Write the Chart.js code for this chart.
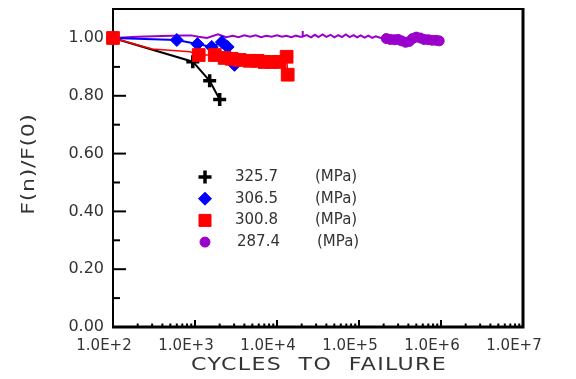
<!DOCTYPE html>
<html>
<head>
<meta charset="utf-8">
<script src="https://cdn.jsdelivr.net/npm/chart.js@4.4.0/dist/chart.umd.min.js"></script>
<style>
  html, body { margin: 0; padding: 0; background: #fff; }
  canvas { display: block; }
</style>
</head>
<body>
<canvas id="fatigueChart" width="576" height="379"></canvas>
<script>
const stressLabels = ['325.7', '306.5', '300.8', '287.4'];
const unitLabel = '(MPa)';
const xTitle = 'CYCLES  TO  FAILURE';
const yTitle = 'F(n)/F(0)';
const xTickValues = [1e2, 1e3, 1e4, 1e5, 1e6, 1e7];
const xTickLabels = ['1.0E+2', '1.0E+3', '1.0E+4', '1.0E+5', '1.0E+6', '1.0E+7'];
const yTickValues = [0, 0.2, 0.4, 0.6, 0.8, 1.0];
const yTickLabels = ['0.00', '0.20', '0.40', '0.60', '0.80', '1.00'];

// 325.7 MPa
const blackCycles = [100, 940, 1510, 2000];
const blackRatio = [1.0, 0.918, 0.852, 0.787];

// 306.5 MPa
const blueCycles = [100, 600, 1070, 1600, 2130, 2500, 3030];
const blueRatio = [1.0, 0.993, 0.979, 0.969, 0.986, 0.969, 0.907];

// 300.8 MPa
const redCycles = [100, 300, 870, 1110, 1740, 2300, 2800, 3500, 4660, 5800, 7050, 8600, 10700, 13100, 13500];
const redRatio = [1.0, 0.962, 0.952, 0.941, 0.941, 0.931, 0.928, 0.924, 0.921, 0.921, 0.917, 0.917, 0.917, 0.935, 0.873];
const redMarked = [1, 0, 0, 1, 1, 1, 1, 1, 1, 1, 1, 1, 1, 1, 1];

// 287.4 MPa
const purpleCycles = [100, 200, 400, 700, 900, 1100, 1400, 1900, 2400, 2900, 3400, 4000, 4700, 5500, 6400,
  7400, 8600, 10000, 11500, 13000, 15000, 17000, 19000, 20300, 20500, 20700, 23000, 26000, 29000, 32000,
  36000, 40000, 45000, 50000, 56000, 62000, 69000, 77000, 86000, 95000, 105000, 117000, 130000, 145000,
  160000, 180000, 215000, 240000, 270000, 300000, 330000, 370000, 410000, 450000, 500000, 560000, 620000,
  700000, 780000, 870000, 950000];
const purpleRatio = [1.0, 1.004, 1.007, 1.009, 1.009, 1.004, 1.0, 1.013, 1.003, 1.008, 1.003, 1.009, 1.004, 1.009, 1.003,
  1.008, 1.004, 1.009, 1.004, 1.008, 1.003, 1.008, 1.004, 1.005, 1.024, 1.005, 1.010, 1.002, 1.011, 1.003,
  1.012, 1.004, 1.011, 1.002, 1.010, 1.003, 1.012, 1.003, 1.010, 1.002, 1.009, 1.001, 1.008, 1.000,
  1.006, 1.001, 0.998, 0.995, 0.994, 0.995, 0.990, 0.985, 0.988, 0.998, 1.003, 1.000, 0.995,
  0.994, 0.992, 0.992, 0.990];
const purpleMarkFrom = 200000;

function toPoints(xs, ys) {
  return xs.map((x, i) => ({ x: x, y: ys[i] }));
}

const datasets = [
  {
    label: stressLabels[0],
    data: toPoints(blackCycles, blackRatio),
    borderColor: '#000000',
    backgroundColor: '#000000',
    borderWidth: 2,
    pointStyle: 'cross',
    pointRadius: 6.5,
    pointBorderWidth: 3.5,
    order: 1
  },
  {
    label: stressLabels[1],
    data: toPoints(blueCycles, blueRatio),
    borderColor: '#0000ff',
    backgroundColor: '#0000ff',
    borderWidth: 2,
    pointStyle: 'rectRot',
    pointRadius: 6.5,
    pointBorderWidth: 1,
    order: 2
  },
  {
    label: stressLabels[2],
    data: toPoints(redCycles, redRatio),
    borderColor: '#ff0000',
    backgroundColor: '#ff0000',
    borderWidth: 1.5,
    pointStyle: 'rect',
    pointRadius: redMarked.map(m => m ? 9 : 0),
    pointBorderWidth: 1,
    order: 0
  },
  {
    label: stressLabels[3],
    data: toPoints(purpleCycles, purpleRatio),
    borderColor: '#9900cc',
    backgroundColor: '#9900cc',
    borderWidth: 2,
    pointStyle: 'circle',
    pointRadius: purpleCycles.map(c => c >= purpleMarkFrom ? 5 : 0),
    pointBorderWidth: 1,
    order: 3
  }
];
datasets.forEach(ds => {
  ds.showLine = true;
  ds.clip = false;
  ds.tension = 0;
});

// axis box + inside ticks, drawn under the data
const framePlugin = {
  id: 'frame',
  beforeDatasetsDraw(chart) {
    const { ctx, chartArea: a, scales: { x, y } } = chart;
    ctx.save();
    ctx.strokeStyle = '#000';
    ctx.lineWidth = 2;
    for (let i = 1; i <= 10; i++) {
      const py = y.getPixelForValue(i / 10);
      const len = i % 2 === 0 ? 13 : 7;
      ctx.beginPath();
      ctx.moveTo(a.left, py);
      ctx.lineTo(a.left + len, py);
      ctx.stroke();
    }
    for (let d = 2; d < 7; d++) {
      for (let m = 2; m <= 10; m++) {
        const px = x.getPixelForValue(m * Math.pow(10, d));
        const len = m === 10 ? 7 : 3.5;
        ctx.beginPath();
        ctx.moveTo(px, a.bottom);
        ctx.lineTo(px, a.bottom - len);
        ctx.stroke();
      }
    }
    ctx.lineWidth = 2;
    ctx.beginPath();
    ctx.moveTo(a.left, a.bottom);
    ctx.lineTo(a.left, a.top);
    ctx.lineTo(a.right, a.top);
    ctx.stroke();
    ctx.lineWidth = 3;
    ctx.beginPath();
    ctx.moveTo(a.right, a.top - 1);
    ctx.lineTo(a.right, a.bottom);
    ctx.lineTo(a.left - 1, a.bottom);
    ctx.stroke();
    ctx.restore();
  }
};

const legendPlugin = {
  id: 'stressLegend',
  afterDatasetsDraw(chart) {
    const ctx = chart.ctx;
    ctx.save();
    ctx.font = '15px "DejaVu Sans"';
    ctx.textBaseline = 'middle';
    chart.data.datasets.forEach((ds, i) => {
      const rowY = 177 + i * 21.7;
      ctx.fillStyle = ds.backgroundColor;
      ctx.strokeStyle = ds.borderColor;
      ctx.lineWidth = ds.pointBorderWidth;
      Chart.helpers.drawPoint(ctx, {
        pointStyle: ds.pointStyle,
        radius: ds.pointStyle === 'rect' ? 8.5 : (ds.pointStyle === 'circle' ? 5 : 6.5),
        borderWidth: ds.pointBorderWidth,
        rotation: 0
      }, 205, rowY);
      ctx.fillStyle = '#333';
      const shift = i === 3 ? 2 : 0;
      ctx.fillText(ds.label, 235 + shift, rowY);
      ctx.fillText(unitLabel, 315 + shift, rowY);
    });
    ctx.restore();
  },
  afterDraw(chart) {
    const ctx = chart.ctx;
    ctx.save();
    ctx.fillStyle = '#333';
    ctx.font = '17px "DejaVu Sans"';
    ctx.textAlign = 'center';
    ctx.textBaseline = 'middle';
    ctx.letterSpacing = '1px';
    ctx.save();
    ctx.translate(319, 366);
    ctx.scale(1.3, 1);
    ctx.fillText(xTitle, 0, 0);
    ctx.restore();
    ctx.letterSpacing = '0.5px';
    ctx.translate(30, 164);
    ctx.rotate(-Math.PI / 2);
    ctx.scale(1.3, 1);
    ctx.fillText(yTitle, 0, 0);
    ctx.restore();
  }
};

const ctx = document.getElementById('fatigueChart').getContext('2d');
new Chart(ctx, {
  type: 'scatter',
  data: { datasets: datasets },
  options: {
    responsive: false,
    animation: false,
    layout: { autoPadding: false, padding: { top: 7, right: 53, left: 0, bottom: 0 } },
    plugins: {
      legend: { display: false },
      tooltip: { enabled: false }
    },
    scales: {
      x: {
        type: 'logarithmic',
        min: 100,
        max: 1e7,
        grid: { display: false, drawTicks: false },
        border: { display: false },
        afterBuildTicks: s => { s.ticks = xTickValues.map(v => ({ value: v })); },
        afterFit: s => { s.height = 52; },
        ticks: {
          autoSkip: false,
          maxRotation: 0,
          padding: 10,
          labelOffset: -9,
          color: '#333',
          font: { family: 'DejaVu Sans', size: 15 },
          callback: (v, i) => xTickLabels[i]
        }
      },
      y: {
        min: 0,
        max: 1.1,
        grid: { display: false, drawTicks: false },
        border: { display: false },
        afterBuildTicks: s => { s.ticks = yTickValues.map(v => ({ value: v })); },
        afterFit: s => { s.width = 113; },
        ticks: {
          padding: 9,
          color: '#333',
          font: { family: 'DejaVu Sans', size: 16, lineHeight: 0.01 },
          callback: (v, i) => yTickLabels[i]
        }
      }
    }
  },
  plugins: [framePlugin, legendPlugin]
});
</script>
</body>
</html>
